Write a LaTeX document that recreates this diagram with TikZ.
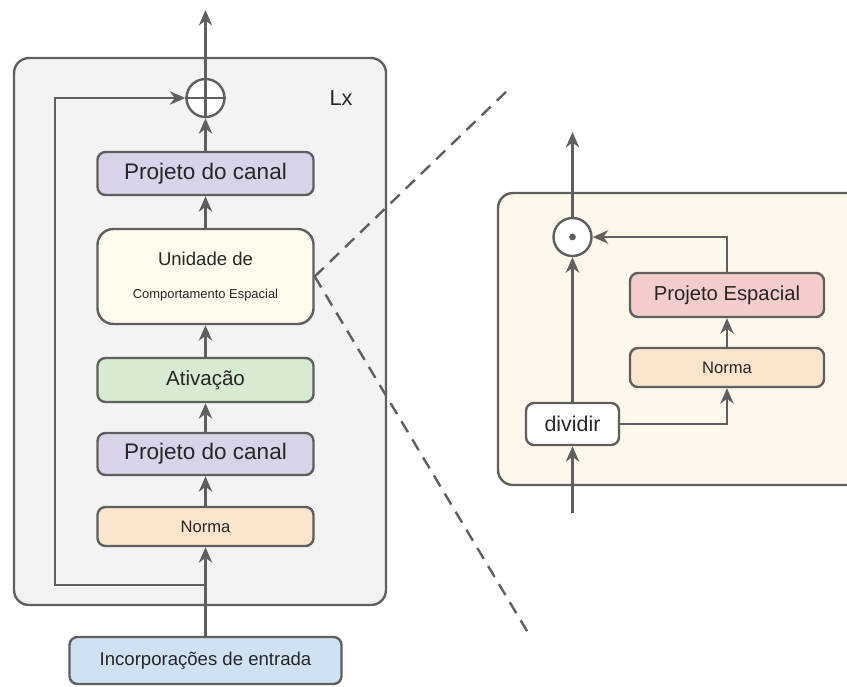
\documentclass[tikz,border=0pt]{standalone}
\usepackage{fontspec}
\setmainfont{Liberation Sans}
\usetikzlibrary{arrows.meta}
\definecolor{linegray}{HTML}{5F5F5F}
\definecolor{panelgray}{HTML}{F3F3F3}
\definecolor{panelcream}{HTML}{FDF8EB}
\definecolor{canalpurple}{HTML}{D9D2E9}
\definecolor{unitcream}{HTML}{FEFBEC}
\definecolor{actgreen}{HTML}{D9EAD3}
\definecolor{normorange}{HTML}{FCE5CD}
\definecolor{inputblue}{HTML}{CFE2F3}
\definecolor{spatpink}{HTML}{F4CCCC}
\definecolor{textdark}{HTML}{262626}
\tikzset{
  block/.style={draw=linegray, line width=1.7pt, rounded corners=0.2cm, align=center, text=textdark, inner sep=0pt},
  arr/.style={draw=linegray, line width=1.7pt, -{Stealth[length=11pt,width=9.5pt,inset=3.5pt]}},
  wire/.style={draw=linegray, line width=1.7pt},
  zoomline/.style={draw=linegray, line width=1.7pt, dash pattern=on 9pt off 6pt},
  opnode/.style={circle, draw=linegray, line width=1.7pt, fill=white, minimum size=0.95cm, inner sep=0pt}
}
\begin{document}
\begin{tikzpicture}[x=0.025cm, y=-0.025cm]
\useasboundingbox (0,0) rectangle (847,686);
\clip (0,0) rectangle (847,686);
% left block, repeated L times
\draw[wire, fill=panelgray, rounded corners=0.375cm] (14,58) rectangle (386,605);
\node[opnode] (plus) at (205.5,98) {};
\draw[wire] (plus.north) -- (plus.south);
\draw[wire] (plus.west) -- (plus.east);
\node[text=textdark, font=\fontsize{15.4pt}{18pt}\selectfont] (lx) at (341,98) {Lx};
\node[block, fill=canalpurple, minimum width=5.4cm, minimum height=1.075cm, font=\fontsize{16pt}{19pt}\selectfont] (proj2) at (205.5,173.5) {Projeto do canal};
\node[block, fill=unitcream, rounded corners=0.4cm, minimum width=5.4cm, minimum height=2.375cm] (unit) at (205.5,276.5) {\fontsize{13.2pt}{16pt}\selectfont Unidade de\\[11pt] \fontsize{9.2pt}{11pt}\selectfont Comportamento Espacial};
\node[block, fill=actgreen, minimum width=5.4cm, minimum height=1.1cm, font=\fontsize{14.6pt}{17pt}\selectfont] (act) at (205.5,380) {Ativação};
\node[block, fill=canalpurple, minimum width=5.4cm, minimum height=1.05cm, font=\fontsize{16pt}{19pt}\selectfont] (proj1) at (205.5,454) {Projeto do canal};
\node[block, fill=normorange, minimum width=5.4cm, minimum height=0.975cm, font=\fontsize{11.8pt}{14pt}\selectfont] (norm1) at (205.5,526.5) {Norma};
\node[block, fill=inputblue, minimum width=6.8cm, minimum height=1.175cm, font=\fontsize{13.2pt}{16pt}\selectfont] (inp) at (205.5,660.5) {Incorporações de entrada};
\coordinate (split) at (205.5,585);
\coordinate (skip) at (55,98);
\coordinate (topout) at (205.5,10);
\draw[arr] (inp) -- (norm1);
\draw[arr] (norm1) -- (proj1);
\draw[arr] (proj1) -- (act);
\draw[arr] (act) -- (unit);
\draw[arr] (unit) -- (proj2);
\draw[arr] (proj2) -- (plus);
\draw[arr] (plus) -- (topout);
\draw[arr] (split) -| (skip) -- (plus);
% zoom lines
\coordinate (zt) at (510,88);
\coordinate (zb) at (530,636);
\draw[zoomline] (unit.east) -- (zt);
\draw[zoomline] (unit.east) -- (zb);
% spatial gating unit
\draw[wire, fill=panelcream, rounded corners=0.375cm] (498,193) rectangle (870,485);
\node[opnode] (dot) at (572.5,237) {};
\fill[linegray] (dot.center) circle (2.4pt);
\node[block, fill=spatpink, minimum width=4.85cm, minimum height=1.1cm, font=\fontsize{14.4pt}{17pt}\selectfont] (pspat) at (727,295) {Projeto Espacial};
\node[block, fill=normorange, minimum width=4.85cm, minimum height=0.975cm, font=\fontsize{11.8pt}{14pt}\selectfont] (norm2) at (727,367.5) {Norma};
\node[block, fill=white, minimum width=2.325cm, minimum height=1.05cm, font=\fontsize{15.2pt}{18pt}\selectfont] (div) at (572.5,424) {dividir};
\coordinate (inR) at (572.5,513);
\coordinate (outR) at (572.5,132);
\draw[arr] (inR) -- (div);
\draw[arr] (div) -- (dot);
\draw[arr] (div) -| (norm2);
\draw[arr] (norm2) -- (pspat);
\draw[arr] (pspat) |- (dot);
\draw[arr] (dot) -- (outR);
\end{tikzpicture}
\end{document}
